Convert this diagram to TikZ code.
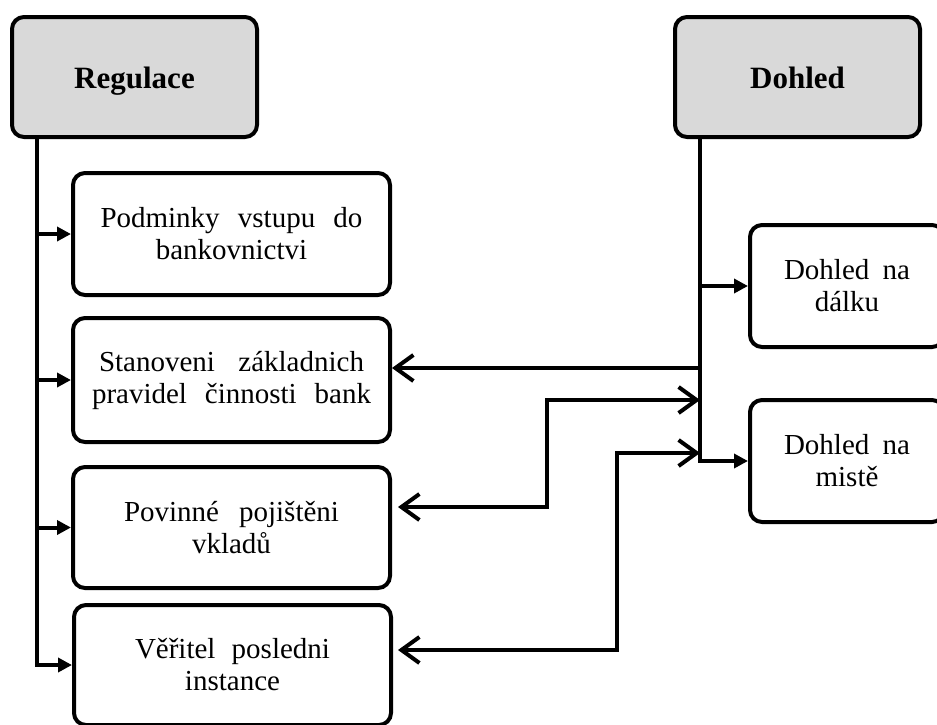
\documentclass[tikz,border=0pt]{standalone}
\usepackage{fontspec}
\usepackage{xcolor}
\usepackage{tikz}
\usetikzlibrary{arrows.meta}
\setmainfont{Liberation Serif}
\definecolor{headgray}{RGB}{217, 217, 217}
\newcommand{\spreadline}[2]{\makebox[#1][s]{#2}}

\begin{document}
\begin{tikzpicture}[
  x=0.5pt, y=-0.5pt,
  head/.style={rectangle, rounded corners=6pt, draw, line width=2pt, fill=headgray, minimum width=122.5pt, minimum height=60pt, text height=11pt, text depth=0pt, font=\bfseries\fontsize{15.5}{17}\selectfont},
  box/.style={rectangle, rounded corners=6pt, draw, line width=2pt, fill=white, minimum width=158.5pt, minimum height=61pt, align=center, font=\fontsize{14.5}{16}\selectfont},
  sidebox/.style={box, minimum width=97pt},
  feed/.style={-{Triangle[length=7pt, width=7pt]}, line width=2pt},
  link/.style={-{Straight Barb[length=9pt, width=13pt, line width=2pt]}, line width=2pt},
  twoway/.style={{Straight Barb[length=9pt, width=13pt, line width=2pt]}-{Straight Barb[length=9pt, width=13pt, line width=2pt]}, line width=2pt}
]
  \path[use as bounding box, clip] (0,0) rectangle (937,724);

  \node[head] (regulace) at (134.5,77) {Regulace};
  \node[head] (dohled) at (797.5,77) {Dohled};

  \node[box, minimum height=61pt] (podminky) at (231.5,234) {\spreadline{131pt}{Podminky vstupu do}\\bankovnictvi};
  \node[box, minimum height=62pt] (pravidla) at (231.5,380) {\spreadline{132.5pt}{Stanoveni základnich}\\\spreadline{139.5pt}{pravidel činnosti bank}};
  \node[box, minimum height=60.5pt] (pojisteni) at (231.5,527.5) {\spreadline{107.5pt}{Povinné pojištěni}\\vkladů};
  \node[box, minimum height=60pt] (veritel) at (232.5,665) {\spreadline{97.5pt}{Věřitel posledni}\\instance};

  \node[sidebox] (dalku) at (847,286) {\spreadline{63pt}{Dohled na}\\dálku};
  \node[sidebox] (misto) at (847,461) {\spreadline{63pt}{Dohled na}\\mistě};

  \coordinate (lefttop) at (37,137);
  \coordinate (righttop) at (700,137);
  \coordinate (rightrule) at (700,368);
  \coordinate (rightins) at (700,400);
  \coordinate (rightlend) at (700,453);
  \coordinate (insend) at (398,507);
  \coordinate (lendend) at (398,650);

  \draw[feed] (lefttop) |- (podminky.west);
  \draw[feed] (lefttop) |- (pravidla.west);
  \draw[feed] (lefttop) |- (pojisteni.west);
  \draw[feed] (lefttop) |- (veritel.west);

  \draw[feed] (righttop) |- (dalku.west);
  \draw[feed] (righttop) |- (misto.west);

  \draw[link] (rightrule) -- (rightrule -| pravidla.east);
  \draw[twoway] (insend) -| (547,400) -- (rightins);
  \draw[twoway] (lendend) -| (617,453) -- (rightlend);
\end{tikzpicture}
\end{document}
